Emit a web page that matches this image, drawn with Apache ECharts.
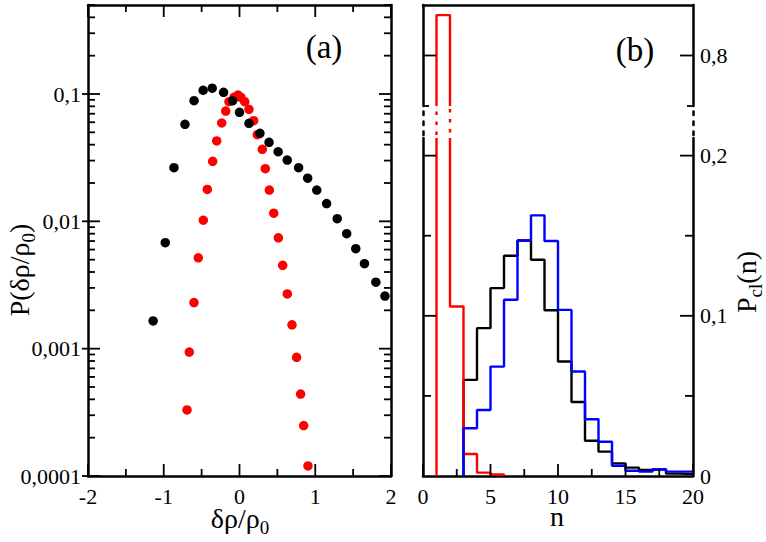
<!DOCTYPE html>
<html><head><meta charset="utf-8">
<script src="https://cdn.jsdelivr.net/npm/echarts@6/dist/echarts.min.js"></script>
<style>html,body{margin:0;padding:0;background:#fff}#c{width:766px;height:542px}</style>
</head><body><div id="c"></div>
<script>
// ---------- panel (a): P(δρ/ρ0) ----------
const blackX = [-1.14,-0.98,-0.865,-0.72,-0.60,-0.48,-0.36,-0.21,-0.09,0.0,0.125,0.27,0.39,0.51,0.63,0.78,0.90,1.02,1.15,1.29,1.415,1.535,1.65,1.80,1.92];
const blackY = [0.00165,0.0068,0.0264,0.0578,0.0886,0.107,0.111,0.103,0.0886,0.0718,0.0588,0.0491,0.0417,0.0352,0.0303,0.0264,0.0218,0.0176,0.0138,0.0105,0.0080,0.0061,0.00465,0.00333,0.00259];
const redX = [-0.693,-0.663,-0.601,-0.544,-0.478,-0.425,-0.354,-0.301,-0.235,-0.182,-0.139,-0.073,-0.02,0.02,0.069,0.125,0.187,0.235,0.301,0.341,0.394,0.452,0.513,0.57,0.631,0.693,0.754,0.807,0.847,0.904];
const redY = [0.00033,0.00094,0.0023,0.00517,0.0102,0.0178,0.0296,0.0428,0.0592,0.0735,0.087,0.0942,0.0982,0.0942,0.087,0.0758,0.0617,0.0479,0.0368,0.0259,0.0176,0.0116,0.00743,0.00451,0.00269,0.00154,0.000855,0.00044,0.000249,0.00012];

// ---------- panel (b): P_cl(n) histograms (value of each unit bin, first bin left edge) ----------
const redStart = 1;
const redHist = [0.84,0.1058,0.0137,0.0021,0.0010];
const blackStart = 3;
const blackHist = [0.060,0.0923,0.1173,0.1375,0.147,0.135,0.1035,0.0715,0.0462,0.022,0.0152,0.0079,0.0052,0.0038,0.0042,0.0015,0.0012];
const blueStart = 3;
const blueHist = [0.0298,0.0412,0.0683,0.110,0.147,0.1627,0.1467,0.1037,0.0652,0.0354,0.0214,0.0064,0.0033,0.0027,0.0042,0.0027,0.0027];

// ---------- tick values ----------
const aXMajor = [-2,-1,0,1,2], aXMinor = [-1.5,-0.5,0.5,1.5];
const logMajor = [0.0001,0.001,0.01,0.1];
const logMinor = [];
logMajor.forEach(d => { for (let k = 2; k <= 9; k++) { const v = +(d*k).toPrecision(3); if (v <= 0.5) logMinor.push(v); } });
const bXMajor = [0,5,10,15,20], bXMinor = [2.5,7.5,12.5,17.5];
const upMajor = [0.8], upMinor = [0.75];
const lowMajor = [0.1,0.2], lowMinor = [0.05,0.15], lowLabels = [0,0.1,0.2];

const FONT = 'Liberation Serif';
const fmt = v => String(+Number(v).toPrecision(6)).replace('.', ',');

function steps(start, vals, dropEnd) {
  const pts = [[start, 0]];
  vals.forEach((v, i) => { pts.push([start + i, v]); pts.push([start + i + 1, v]); });
  if (dropEnd) pts.push([start + vals.length, 0]);
  return pts;
}
// keep the part of a step outline that lies inside one section [lo, hi] of the broken axis
function section(pts, lo, hi) {
  const out = [];
  const c = v => Math.min(hi, Math.max(lo, v));
  for (let i = 1; i < pts.length; i++) {
    const a = pts[i - 1], b = pts[i];
    if ((a[1] >= hi && b[1] >= hi) || (a[1] <= lo && b[1] <= lo)) {
      if (out.length && out[out.length - 1][1] !== '-') out.push([a[0], '-']);
      continue;
    }
    const A = [a[0], c(a[1])], B = [b[0], c(b[1])];
    const last = out[out.length - 1];
    if (!last || last[1] === '-' || last[0] !== A[0] || last[1] !== A[1]) out.push(A);
    out.push(B);
  }
  return out;
}
const zip = (a, b) => a.map((x, i) => [x, b[i]]);

const LW = 2.5;
const lineOn = (extra) => ({show: true, onZero: false, lineStyle: Object.assign({color: '#000', width: LW}, extra || {})});
function ax(o) {
  return Object.assign({type: 'value', axisLine: {show: false, onZero: false}, axisTick: {show: false}, axisLabel: {show: false},
    splitLine: {show: false}, minorTick: {show: false}, minorSplitLine: {show: false}}, o);
}
const labStyle = (vals, margin) => ({show: true, customValues: vals, formatter: fmt, fontFamily: FONT, fontSize: 22, color: '#000', margin: margin});
const xLab = (vals) => ({show: true, customValues: vals, formatter: fmt, fontFamily: FONT, fontSize: 22, color: '#000', margin: 9});

const grids = [
  {left: 88, top: 5, width: 303, height: 471},
  {left: 423, top: 5, width: 270, height: 101},
  {left: 423, top: 106, width: 270, height: 32},
  {left: 423, top: 138, width: 270, height: 338}
];
const XA = {gridIndex: 0, min: -2, max: 2};
const XB = {min: 0, max: 20};
const xAxes = [
  ax(Object.assign({}, XA, {position: 'bottom', axisLine: lineOn(), axisLabel: xLab(aXMajor)})), // 0
  ax(Object.assign({}, XA, {position: 'top', axisLine: lineOn()})),                               // 1
  ax(Object.assign({}, XB, {gridIndex: 1, position: 'top', axisLine: lineOn()})),                 // 2
  ax(Object.assign({}, XB, {gridIndex: 2, position: 'bottom'})),                                  // 3
  ax(Object.assign({}, XB, {gridIndex: 3, position: 'bottom', axisLine: lineOn(), axisLabel: xLab(bXMajor)})) // 4
];
const L = {type: 'log', logBase: 10, gridIndex: 0, min: 0.0001, max: 0.5};
const U = {gridIndex: 1, min: 0.75, max: 0.85};
const M = {gridIndex: 2, min: 0.21, max: 0.75};
const W = {gridIndex: 3, min: 0, max: 0.211};
const dotted = {type: [3.5, 6.5], dashOffset: 7};
const yAxes = [
  ax(Object.assign({}, L, {position: 'left', axisLine: lineOn(), axisLabel: labStyle(logMajor, 7)})),   // 0
  ax(Object.assign({}, L, {position: 'right', axisLine: lineOn()})),                                   // 1
  ax(Object.assign({}, U, {position: 'left', axisLine: lineOn()})),                                    // 2
  ax(Object.assign({}, U, {position: 'right', axisLine: lineOn(), axisLabel: labStyle(upMajor, 7)})),  // 3
  ax(Object.assign({}, M, {position: 'left', axisLine: lineOn(dotted)})),                              // 4
  ax(Object.assign({}, M, {position: 'right', axisLine: lineOn(dotted)})),                             // 5
  ax(Object.assign({}, W, {position: 'left', axisLine: lineOn()})),                                    // 6
  ax(Object.assign({}, W, {position: 'right', axisLine: lineOn(), axisLabel: labStyle(lowLabels, 7)})) // 7
];

const histLine = (name, data, color, xi, yi, extra) => ({
  type: 'line', name, data, xAxisIndex: xi, yAxisIndex: yi, showSymbol: false, symbol: 'none',
  clip: false, connectNulls: false, animation: false, silent: true,
  lineStyle: Object.assign({color, width: 2.4}, extra || {}), itemStyle: {color}
});
// tick marks, placed through the axes' own scales
function tickSeries(xi, yi, pts, seg) {
  return {type: 'custom', coordinateSystem: 'cartesian2d', xAxisIndex: xi, yAxisIndex: yi, data: pts,
    clip: false, silent: true, animation: false, z: 5,
    renderItem: (params, api) => {
      const p = api.coord([api.value(0), api.value(1)]);
      const s = seg(p);
      return {type: 'line', shape: {x1: s[0], y1: s[1], x2: s[2], y2: s[3]}, style: {stroke: '#000000', lineWidth: 1.8}};
    }};
}
const atX = (x, vals) => vals.map(v => [x, v]);
const atY = (y, vals) => vals.map(v => [v, y]);
const inR = (o, i) => p => [p[0] - o, p[1], p[0] + i, p[1]];   // left edge: o out, i in
const inL = (i) => p => [p[0] - i, p[1], p[0], p[1]];           // right edge
const inU = (i) => p => [p[0], p[1], p[0], p[1] - i];           // bottom edge
const inD = (i) => p => [p[0], p[1], p[0], p[1] + i];           // top edge

const redSteps = steps(redStart, redHist, true);
const series = [
  {type: 'scatter', data: zip(redX, redY), xAxisIndex: 0, yAxisIndex: 0, symbolSize: 9.5, clip: false, itemStyle: {color: '#ff0000', opacity: 1}, animation: false},
  {type: 'scatter', data: zip(blackX, blackY), xAxisIndex: 0, yAxisIndex: 0, symbolSize: 9.5, clip: false, itemStyle: {color: '#000000', opacity: 1}, animation: false},
  histLine('black', steps(blackStart, blackHist, false), '#000000', 4, 6),
  histLine('red', section(redSteps, W.min, W.max), '#ff0000', 4, 6),
  histLine('blue', steps(blueStart, blueHist, false), '#0000ff', 4, 6),
  histLine('redUp', section(redSteps, U.min, U.max), '#ff0000', 2, 2),
  histLine('redBreak', section(redSteps, M.min, M.max), '#ff0000', 3, 4, {type: [3.5, 6.5], dashOffset: 7}),
  // panel (a) ticks
  tickSeries(0, 0, atX(-2, logMajor), inR(6, 12)),
  tickSeries(0, 0, atX(-2, logMinor), inR(0, 7)),
  tickSeries(0, 0, atX(2, logMajor), inL(12)),
  tickSeries(0, 0, atX(2, logMinor), inL(7)),
  tickSeries(0, 0, atY(0.0001, aXMajor), inU(12)),
  tickSeries(0, 0, atY(0.0001, aXMinor), inU(7)),
  tickSeries(0, 0, atY(0.5, aXMajor), inD(12)),
  tickSeries(0, 0, atY(0.5, aXMinor), inD(7)),
  // panel (b) ticks
  tickSeries(2, 2, atX(0, upMajor), inR(0, 13)),
  tickSeries(2, 2, atX(0, upMinor), inR(0, 6)),
  tickSeries(2, 2, atX(20, upMajor), inL(13)),
  tickSeries(2, 2, atX(20, upMinor), inL(6)),
  tickSeries(4, 6, atX(0, lowMajor), inR(0, 13)),
  tickSeries(4, 6, atX(0, lowMinor), inR(0, 8)),
  tickSeries(4, 6, atX(20, lowMajor), inL(13)),
  tickSeries(4, 6, atX(20, lowMinor), inL(8)),
  tickSeries(4, 6, atY(0, bXMajor), inU(12)),
  tickSeries(4, 6, atY(0, bXMinor), inU(7))
];

const sub = {fontSize: 19, lineHeight: 14, verticalAlign: 'bottom', fontFamily: FONT, fill: '#000'};
function txt(x, y, text, size, rot, rich) {
  return {type: 'text', x, y, rotation: rot || 0, silent: true,
    style: {text, fontFamily: FONT, fontSize: size, fill: '#000', align: 'center', verticalAlign: 'middle',
      textAlign: 'center', textVerticalAlign: 'middle', lineHeight: 38, rich: rich || {}}};
}
const graphic = [
  txt(324, 47, '(a)', 33),
  txt(635, 50, '(b)', 33),
  txt(240, 518, 'δρ/ρ{s|0}', 28, 0, {s: sub}),
  txt(557, 516, 'n', 28),
  txt(19, 270, 'P(δρ/ρ{s|0})', 28, Math.PI / 2, {s: sub}),
  txt(746, 282, 'P{s|cl}(n)', 28, Math.PI / 2, {s: sub})
];

const chart = echarts.init(document.getElementById('c'), null, {renderer: 'svg'});
chart.setOption({
  backgroundColor: '#fff',
  animation: false,
  grid: grids,
  xAxis: xAxes,
  yAxis: yAxes,
  series,
  graphic
});
</script></body></html>
